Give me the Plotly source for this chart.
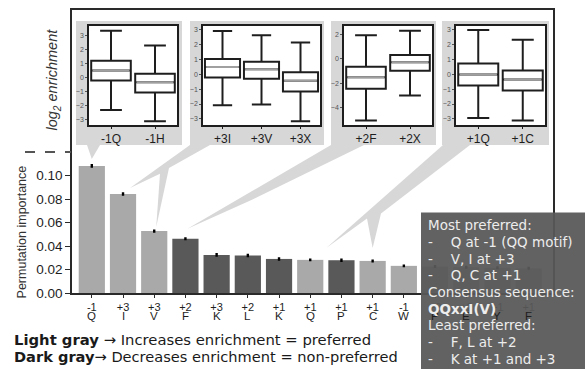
import plotly.graph_objects as go

# ---------------- data ----------------
positions = ["-1", "+3", "+3", "+2", "+3", "+2", "+1", "+1", "+1", "+1", "-1", "+2", "+2", "+1", "+1"]
residues = ["Q", "I", "V", "F", "K", "L", "K", "Q", "P", "C", "W", "P", "E", "Y", "F"]
importance = [0.1082, 0.0843, 0.0527, 0.0462, 0.0324, 0.0319, 0.0290, 0.0282, 0.0279,
              0.0273, 0.0231, 0.0225, 0.0220, 0.0215, 0.0210]
importance_err = [0.0007, 0.0006, 0.0005, 0.0005, 0.0007, 0.0006, 0.0006, 0.0004, 0.0007,
                  0.0004, 0.0004, 0.0004, 0.0004, 0.0004, 0.0004]
preferred = [True, True, True, False, False, False, False, True, False, True, True,
             True, True, True, True]
y_ticks = [0.00, 0.02, 0.04, 0.06, 0.08, 0.10]

# inset box-plot summaries (log2 enrichment)
p1_labels = ["-1Q", "-1H"]
p1_low = [-2.31, -3.11]; p1_q1 = [-0.21, -1.06]; p1_med = [0.49, -0.33]; p1_q3 = [1.20, 0.26]; p1_high = [3.32, 2.28]
p2_labels = ["+3I", "+3V", "+3X"]
p2_low = [-2.09, -2.04, -3.16]; p2_q1 = [-0.22, -0.31, -1.16]; p2_med = [0.49, 0.33, -0.44]
p2_q3 = [1.02, 0.84, 0.13]; p2_high = [2.90, 2.62, 2.13]
p3_labels = ["+2F", "+2X"]
p3_low = [-5.07, -3.00]; p3_q1 = [-2.45, -0.98]; p3_med = [-1.50, -0.27]; p3_q3 = [-0.65, 0.33]; p3_high = [1.94, 2.32]
p4_labels = ["+1Q", "+1C"]
p4_low = [-2.93, -3.11]; p4_q1 = [-0.76, -1.09]; p4_med = [-0.02, -0.36]; p4_q3 = [0.71, 0.24]; p4_high = [2.96, 2.31]
p1_ticks = [-3, -2, -1, 0, 1, 2, 3]
p2_ticks = [-3, -2, -1, 0, 1, 2, 3]
p3_ticks = [-4, -2, 0, 2]
p4_ticks = [-3, -2, -1, 0, 1, 2, 3]

box_lines = [
    ("Most preferred:", False),
    ("-\u2003 Q at -1 (QQ motif)", False),
    ("-\u2003 V, I at +3", False),
    ("-\u2003 Q, C at +1", False),
    ("Consensus sequence:", False),
    ("QQxxI(V)", True),
    ("Least preferred:", False),
    ("-\u2003 F, L at +2", False),
    ("-\u2003 K at +1 and +3", False),
]

# ---------------- layout geometry (pixels) ----------------
FW, FH = 585, 369
L, T, R_, B_ = 72, 8, 553, 293
W, H = R_ - L, B_ - T
XMIN, XMAX = -0.635, 14.78
YMAX = 0.2409

LIGHT = "#a9a9a9"
DARK = "#595959"
PANEL = "#d7d7d7"
AX = "#2a2a2a"
FONT = "Liberation Sans, Arial, sans-serif"
GFONT = "DejaVu Sans, sans-serif"


def PX(px):
    return (px - L) / W


def PY(py):
    return (B_ - py) / H


def DX(i):
    return (i - XMIN) / (XMAX - XMIN)


def DY(v):
    return v / YMAX


def tip(i, dx, dy):
    return (DX(i) + dx / W, DY(importance[i]) + dy / H)


fig = go.Figure()

fig.add_trace(go.Bar(
    x=list(range(len(importance))), y=importance,
    marker=dict(color=[LIGHT if p else DARK for p in preferred], line=dict(width=0)),
    width=0.84,
    error_y=dict(type="data", array=importance_err, color="black", thickness=2, width=1.2),
    hoverinfo="skip",
))

panels = [
    (p1_labels, p1_low, p1_q1, p1_med, p1_q3, p1_high, p1_ticks, (89, 177), (-3.39, 3.67), (76, 182)),
    (p2_labels, p2_low, p2_q1, p2_med, p2_q3, p2_high, p2_ticks, (203, 320), (-3.42, 3.24), (190, 324)),
    (p3_labels, p3_low, p3_q1, p3_med, p3_q3, p3_high, p3_ticks, (344, 432), (-5.45, 2.72), (331, 436)),
    (p4_labels, p4_low, p4_q1, p4_med, p4_q3, p4_high, p4_ticks, (456, 545), (-3.42, 3.24), (442, 549)),
]

shapes = []
upper_shapes = []
layout_axes = {}
INSET_TOP, INSET_BOT = 24, 124
GRAY_TOP, GRAY_BOT = 19, 144
BOXW = 0.9

for k, (labels, low, q1, med, q3, high, ticks, (xa, xb), yr, (ga, gb)) in enumerate(panels):
    n = k + 2
    xs, ys = f"x{n}", f"y{n}"
    fig.add_trace(go.Box(
        x=labels, q1=q1, median=med, q3=q3, lowerfence=low, upperfence=high,
        width=BOXW, whiskerwidth=0.55, fillcolor="white",
        line=dict(color="#1e1e1e", width=2), boxpoints=False,
        xaxis=xs, yaxis=ys, hoverinfo="skip",
    ))
    for j, m in enumerate(med):
        upper_shapes.append(dict(type="line", xref=xs, yref=ys,
                                 x0=j - BOXW / 2 + 0.03, x1=j + BOXW / 2 - 0.03, y0=m, y1=m,
                                 line=dict(color="#a0a0a0", width=2), layer="above"))
    layout_axes[f"xaxis{n}"] = dict(
        domain=[PX(xa), PX(xb)], anchor=ys, type="category",
        range=[-0.5, len(labels) - 0.5],
        showline=True, mirror=True, linecolor="#1e1e1e", linewidth=1.5,
        ticks="outside", ticklen=2, tickcolor="#1e1e1e",
        tickfont=dict(family=FONT, size=12, color="#1e1e1e"),
        showgrid=False, zeroline=False, fixedrange=True,
    )
    layout_axes[f"yaxis{n}"] = dict(
        domain=[PY(INSET_BOT), PY(INSET_TOP)], anchor=xs, range=list(yr),
        tickvals=ticks, ticktext=[("\u2212" + str(-t)) if t < 0 else str(t) for t in ticks],
        showline=True, mirror=True, linecolor="#1e1e1e", linewidth=1.5,
        ticks="outside", ticklen=2, tickcolor="#555",
        tickfont=dict(family=FONT, size=7, color="#555"),
        showgrid=False, zeroline=False, fixedrange=True,
    )
    shapes.append(dict(type="rect", xref="paper", yref="paper",
                       x0=PX(ga), x1=PX(gb), y0=PY(GRAY_BOT), y1=PY(GRAY_TOP),
                       fillcolor=PANEL, line=dict(width=0), layer="below"))

# callouts from panels to bars
callouts = [
    [(PX(87), PY(144)), tip(0, 0, 7), (PX(100), PY(144))],
    [(PX(190), PY(144)), tip(1, 7, 6), (PX(160), PY(173)), tip(2, 2, 4), (PX(169), PY(167)), (PX(210), PY(144))],
    [(PX(331), PY(144)), tip(3, 2, 10), (PX(252), PY(199)), (PX(364), PY(144))],
    [(PX(443), PY(144)), tip(7, 16, 12), (PX(367), PY(218)), tip(9, 0, 13), (PX(381), PY(213)), (PX(470), PY(144))],
]
for poly in callouts:
    path = "M " + " L ".join(f"{x:.5f},{y:.5f}" for x, y in poly) + " Z"
    shapes.append(dict(type="path", xref="paper", yref="paper", path=path,
                       fillcolor=PANEL, line=dict(width=0), layer="below"))

for k in range(len(panels)):
    n = k + 2
    shapes.append(dict(type="rect", xref=f"x{n} domain", yref=f"y{n} domain",
                       x0=0, x1=1, y0=0, y1=1, fillcolor="white",
                       line=dict(width=0), layer="below"))

shapes.extend(upper_shapes)

# dashed break line at left
shapes.append(dict(type="line", xref="paper", yref="y", x0=PX(25), x1=PX(71),
                   y0=0.12, y1=0.12, line=dict(color="#555", width=2, dash="10px,10px")))

# summary text box
shapes.append(dict(type="rect", xref="paper", yref="paper",
                   x0=PX(421), x1=PX(600), y0=PY(380), y1=PY(212),
                   fillcolor="rgba(88,88,88,0.94)", line=dict(width=0), layer="above"))

annotations = []
for i, r in enumerate(residues):
    annotations.append(dict(x=i, xref="x", y=PY(316), yref="paper", text=r,
                            showarrow=False, xanchor="center", yanchor="middle",
                            font=dict(family=FONT, size=11.5, color="#1e1e1e")))

annotations.append(dict(x=PX(22), y=PY(232), xref="paper", yref="paper",
                        xanchor="center", yanchor="middle",
                        text="Permutation importance", textangle=-90, showarrow=False,
                        font=dict(family=FONT, size=12.5, color="#333")))
annotations.append(dict(x=PX(53), y=PY(78), xref="paper", yref="paper",
                        xanchor="center", yanchor="middle",
                        text="<i>log<sub>2</sub> enrichment</i>", textangle=-90, showarrow=False,
                        font=dict(family=FONT, size=14.5, color="#333")))

annotations.append(dict(x=PX(12), y=PY(340), xref="paper", yref="paper",
                        xanchor="left", yanchor="middle",
                        text="<b>Light gray</b> \u2192 Increases enrichment = preferred",
                        showarrow=False, font=dict(family=GFONT, size=14.8, color="#1a1a1a")))
annotations.append(dict(x=PX(12), y=PY(357), xref="paper", yref="paper",
                        xanchor="left", yanchor="middle",
                        text="<b>Dark gray</b>\u2192 Decreases enrichment = non-preferred",
                        showarrow=False, font=dict(family=GFONT, size=14.6, color="#1a1a1a")))

for j, (txt, bold) in enumerate(box_lines):
    annotations.append(dict(x=PX(426), y=PY(225 + 16.75 * j), xref="paper", yref="paper",
                            xanchor="left", yanchor="middle",
                            text=f"<b>{txt}</b>" if bold else txt, showarrow=False,
                            font=dict(family=GFONT, size=13.5, color="#ededed")))

fig.update_layout(
    width=FW, height=FH,
    margin=dict(l=L, r=FW - R_, t=T, b=FH - B_),
    paper_bgcolor="white", plot_bgcolor="rgba(0,0,0,0)",
    showlegend=False, bargap=0.16,
    xaxis=dict(range=[XMIN, XMAX], tickvals=list(range(len(positions))), ticktext=positions,
               showline=True, mirror=True, linecolor=AX, linewidth=1.5,
               ticks="outside", ticklen=3, tickcolor=AX,
               tickfont=dict(family=FONT, size=11, color="#1e1e1e"),
               showgrid=False, zeroline=False, fixedrange=True),
    yaxis=dict(range=[0, YMAX], tickvals=y_ticks, ticktext=[f"{v:.2f}" for v in y_ticks],
               showline=True, mirror=True, linecolor=AX, linewidth=1.5,
               ticks="outside", ticklen=5, tickcolor=AX,
               tickfont=dict(family=FONT, size=13.5, color="#1e1e1e"),
               showgrid=False, zeroline=False, fixedrange=True),
    shapes=shapes, annotations=annotations,
    **layout_axes,
)

fig.write_html("out.html", config={"displayModeBar": False},
               post_script="document.body.style.margin='0';document.body.style.overflow='hidden';")
